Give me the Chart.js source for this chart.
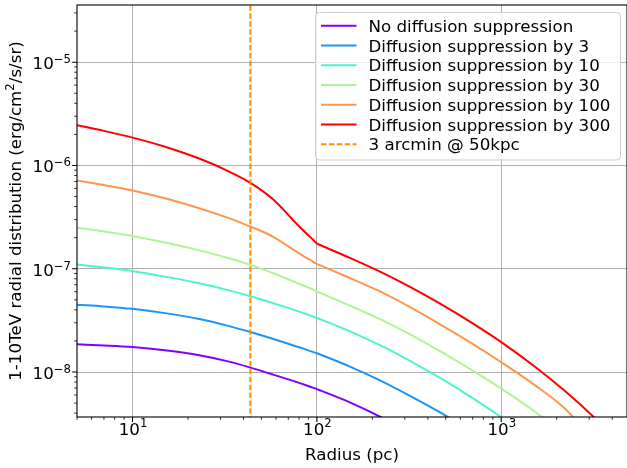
<!DOCTYPE html>
<html>
<head>
<meta charset="utf-8">
<script src="https://cdn.jsdelivr.net/npm/chart.js@4.4.1/dist/chart.umd.min.js"></script>
<style>
  html, body { margin: 0; padding: 0; background: #fff; }
  canvas { display: block; }
</style>
</head>
<body>
<canvas id="radialChart" width="627" height="468"></canvas>
<script>
const radius = [5, 7, 10, 15, 23, 33, 43.6, 58, 80, 95, 100, 105, 150, 220, 320, 466, 700, 1000, 1500, 2200, 3300, 5000];

// 1-10 TeV radial distribution (erg/cm2/s/sr)
const noSuppression = [1.853e-8, 1.807e-8, 1.744e-8, 1.622e-8, 1.455e-8, 1.268e-8, 1.104e-8, 9.44e-9, 7.85e-9, 7.06e-9, 6.84e-9, 6.61e-9, 5.11e-9, 3.69e-9, 2.54e-9, null, null, null, null, null, null, null];
const suppression3 = [4.48e-8, 4.32e-8, 4.09e-8, 3.72e-8, 3.26e-8, 2.80e-8, 2.44e-8, 2.09e-8, 1.74e-8, 1.567e-8, 1.52e-8, 1.469e-8, 1.135e-8, 8.30e-9, 5.87e-9, 4.06e-9, 2.65e-9, null, null, null, null, null];
const suppression10 = [1.102e-7, 1.030e-7, 9.48e-8, 8.39e-8, 7.23e-8, 6.21e-8, 5.41e-8, 4.63e-8, 3.85e-8, 3.45e-8, 3.34e-8, 3.23e-8, 2.49e-8, 1.82e-8, 1.285e-8, 8.77e-9, 5.60e-9, 3.65e-9, 2.15e-9, null, null, null];
const suppression30 = [2.49e-7, 2.30e-7, 2.08e-7, 1.795e-7, 1.507e-7, 1.271e-7, 1.091e-7, 9.04e-8, 7.16e-8, 6.30e-8, 6.05e-8, 5.82e-8, 4.42e-8, 3.25e-8, 2.32e-8, 1.59e-8, 1.033e-8, 6.92e-9, 4.22e-9, 2.52e-9, null, null];
const suppression100 = [7.16e-7, 6.47e-7, 5.73e-7, 4.81e-7, 3.86e-7, 3.11e-7, 2.56e-7, 2.04e-7, 1.41e-7, 1.175e-7, 1.114e-7, 1.074e-7, 8.18e-8, 6.03e-8, 4.25e-8, 2.90e-8, 1.875e-8, 1.245e-8, 7.59e-9, 4.48e-9, 2.0e-9, null];
const suppression300 = [2.455e-6, 2.163e-6, 1.862e-6, 1.521e-6, 1.167e-6, 8.83e-7, 6.79e-7, 4.69e-7, 2.58e-7, 1.919e-7, 1.758e-7, 1.690e-7, 1.282e-7, 9.38e-8, 6.68e-8, 4.59e-8, 2.96e-8, 1.95e-8, 1.151e-8, 6.61e-9, 3.44e-9, 1.63e-9];

const seriesLabels = ['No diffusion suppression', 'Diffusion suppression by 3', 'Diffusion suppression by 10',
    'Diffusion suppression by 30', 'Diffusion suppression by 100', 'Diffusion suppression by 300'];
const seriesColors = ['#8000ff', '#1a96f2', '#4df3ce', '#b3f396', '#ff964f', '#ff0000'];
const seriesValues = [noSuppression, suppression3, suppression10, suppression30, suppression100, suppression300];

// 3 arcmin at 50 kpc
const arcminRadius = 43.6;
const arcminLabel = '3 arcmin @ 50kpc';

// axis ranges and tick labels
const xRange = [5, 4810];
const yRange = [3.67e-9, 3.58e-5];
const xMajor = [10, 100, 1000];
const xMajorExp = ['1', '2', '3'];
const yMajor = [1e-8, 1e-7, 1e-6, 1e-5];
const yMajorExp = ['\u22128', '\u22127', '\u22126', '\u22125'];

const FONT = '"DejaVu Sans", sans-serif';

function minorTicks(min, max) {
    const out = [];
    for (let e = Math.floor(Math.log10(min)); e <= Math.ceil(Math.log10(max)); e++) {
        for (let m = 2; m <= 9; m++) {
            const v = m * Math.pow(10, e);
            if (v >= min && v <= max) out.push(v);
        }
    }
    return out;
}

function setTicks(majors) {
    return function(scale) {
        scale.ticks = majors.map(v => ({ value: v, major: true }));
    };
}

const datasets = seriesValues.map((vals, i) => ({
    label: seriesLabels[i],
    data: radius.map((r, j) => vals[j] == null ? null : { x: r, y: vals[j] }).filter(Boolean),
    borderColor: seriesColors[i],
    borderWidth: 2,
    pointRadius: 0,
    cubicInterpolationMode: 'monotone',
    fill: false,
    order: 6 - i
}));

datasets.push({
    label: arcminLabel,
    data: [{ x: arcminRadius, y: 1e-12 }, { x: arcminRadius, y: 1e-2 }],
    borderColor: '#ff8c00',
    borderWidth: 2,
    borderDash: [5.5, 2.4],
    pointRadius: 0,
    fill: false,
    order: -1
});

function drawPow(ctx, exp, x, baseline, align, raise) {
    ctx.font = '16.7px ' + FONT;
    const wb = ctx.measureText('10').width;
    ctx.font = '11.7px ' + FONT;
    const we = ctx.measureText(exp).width;
    const total = wb + we;
    let left = align === 'center' ? x - total / 2 : x - total;
    ctx.textAlign = 'left';
    ctx.textBaseline = 'alphabetic';
    ctx.font = '16.7px ' + FONT;
    ctx.fillText('10', left, baseline);
    ctx.font = '11.7px ' + FONT;
    ctx.fillText(exp, left + wb, baseline - raise);
}

const decorations = {
    id: 'decorations',
    afterDatasetsDraw(chart) {
        const { ctx, chartArea: a, scales: { x, y } } = chart;
        ctx.save();
        ctx.fillStyle = '#000';
        ctx.strokeStyle = '#000';

        // spines
        ctx.lineWidth = 1.1;
        ctx.strokeRect(a.left, a.top, a.right - a.left, a.bottom - a.top);

        // tick marks
        ctx.beginPath();
        xMajor.forEach(v => { const px = x.getPixelForValue(v); ctx.moveTo(px, a.bottom); ctx.lineTo(px, a.bottom + 4.9); });
        yMajor.forEach(v => { const py = y.getPixelForValue(v); ctx.moveTo(a.left, py); ctx.lineTo(a.left - 4.9, py); });
        ctx.stroke();
        ctx.lineWidth = 0.8;
        ctx.beginPath();
        minorTicks(xRange[0], xRange[1]).forEach(v => { const px = x.getPixelForValue(v); ctx.moveTo(px, a.bottom); ctx.lineTo(px, a.bottom + 2.8); });
        minorTicks(yRange[0], yRange[1]).forEach(v => { const py = y.getPixelForValue(v); ctx.moveTo(a.left, py); ctx.lineTo(a.left - 2.8, py); });
        ctx.stroke();

        // tick labels
        xMajor.forEach((v, i) => drawPow(ctx, xMajorExp[i], x.getPixelForValue(v) + 0.5, 435, 'center', 8.5));
        yMajor.forEach((v, i) => drawPow(ctx, yMajorExp[i], 71, y.getPixelForValue(v) + 7, 'right', 6));

        // axis titles
        ctx.font = '16.7px ' + FONT;
        ctx.textAlign = 'center';
        ctx.textBaseline = 'alphabetic';
        ctx.fillText('Radius (pc)', (a.left + a.right) / 2, 460);

        const part1 = '1-10TeV radial distribution (erg/cm';
        const part2 = '2';
        const part3 = '/s/sr)';
        ctx.save();
        ctx.translate(20.5, (a.top + a.bottom) / 2);
        ctx.rotate(-Math.PI / 2);
        ctx.textAlign = 'left';
        ctx.font = '16.7px ' + FONT;
        const w1 = ctx.measureText(part1).width;
        const w3 = ctx.measureText(part3).width;
        ctx.font = '11.7px ' + FONT;
        const w2 = ctx.measureText(part2).width;
        let sx = -(w1 + w2 + w3) / 2;
        ctx.font = '16.7px ' + FONT;
        ctx.fillText(part1, sx, 0);
        ctx.font = '11.7px ' + FONT;
        ctx.fillText(part2, sx + w1, -7);
        ctx.font = '16.7px ' + FONT;
        ctx.fillText(part3, sx + w1 + w2, 0);
        ctx.restore();

        // legend
        const bx = 315.5, by = 12.5, bw = 305, bh = 147.5, r = 4;
        ctx.beginPath();
        ctx.moveTo(bx + r, by);
        ctx.arcTo(bx + bw, by, bx + bw, by + bh, r);
        ctx.arcTo(bx + bw, by + bh, bx, by + bh, r);
        ctx.arcTo(bx, by + bh, bx, by, r);
        ctx.arcTo(bx, by, bx + bw, by, r);
        ctx.closePath();
        ctx.fillStyle = 'rgba(255,255,255,0.8)';
        ctx.fill();
        ctx.strokeStyle = '#cccccc';
        ctx.lineWidth = 1;
        ctx.stroke();

        ctx.font = '16.7px ' + FONT;
        ctx.textAlign = 'left';
        chart.data.datasets.forEach((ds, i) => {
            const cy = 25.7 + i * 19.77;
            ctx.strokeStyle = ds.borderColor;
            ctx.lineWidth = 2;
            ctx.setLineDash(ds.borderDash || []);
            ctx.beginPath();
            ctx.moveTo(321, cy);
            ctx.lineTo(356.5, cy);
            ctx.stroke();
            ctx.setLineDash([]);
            ctx.fillStyle = '#000';
            ctx.fillText(ds.label, 368.5, cy + 6.1);
        });
        ctx.restore();
    }
};

new Chart(document.getElementById('radialChart'), {
    type: 'line',
    data: { datasets: datasets },
    options: {
        responsive: false,
        animation: false,
        devicePixelRatio: 1,
        layout: { padding: { left: 77, top: 5, right: 0, bottom: 51 } },
        plugins: { legend: { display: false }, tooltip: { enabled: false } },
        scales: {
            x: {
                type: 'logarithmic',
                min: xRange[0],
                max: xRange[1],
                afterBuildTicks: setTicks(xMajor),
                ticks: { display: false },
                grid: { color: '#b0b0b0', lineWidth: 1, drawTicks: false },
                border: { display: false }
            },
            y: {
                type: 'logarithmic',
                min: yRange[0],
                max: yRange[1],
                afterBuildTicks: setTicks(yMajor),
                ticks: { display: false },
                grid: { color: '#b0b0b0', lineWidth: 1, drawTicks: false },
                border: { display: false }
            }
        }
    },
    plugins: [decorations]
});
</script>
</body>
</html>
